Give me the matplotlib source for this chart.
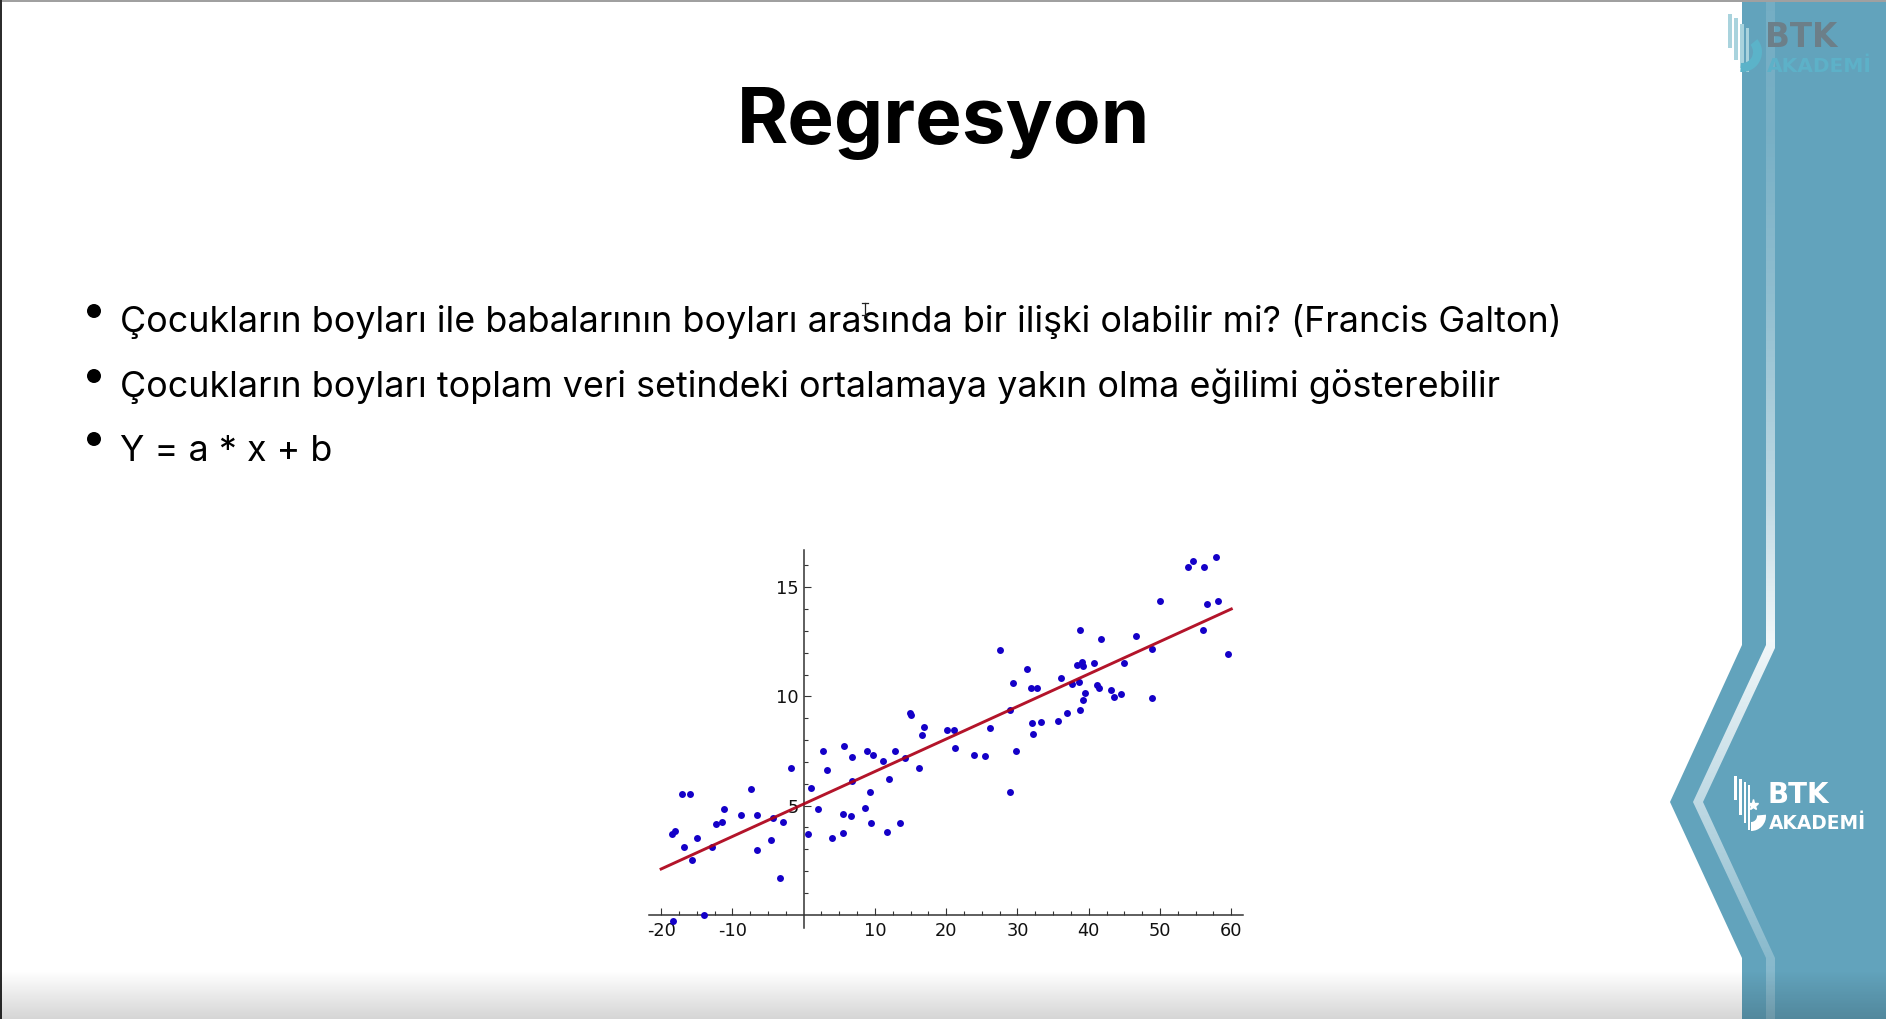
import numpy as np
import matplotlib
matplotlib.use("Agg")
import matplotlib.pyplot as plt
from matplotlib.patches import Polygon, Circle, Wedge, Rectangle
from matplotlib.ticker import FixedLocator

W, H = 1886, 1019

#data
x_pts = [-18.4, -14.0, -18.5, -18.07, -17.09, -15.96, -16.81, -15.68, -14.98, -12.83,
         -12.31, -11.42, -11.19, -8.85, -7.35, -6.51, -6.51, -4.59, -4.31, -3.28,
         -2.86, -1.78, 0.61, 1.03, 1.97, 2.76, 3.23, 3.98, 5.52, 5.52,
         5.62, 6.74, 6.69, 6.79, 8.66, 8.94, 9.27, 9.41, 9.74, 11.14,
         11.66, 12.03, 12.78, 13.48, 14.23, 14.89, 15.03, 16.25, 16.62, 16.90,
         20.13, 21.08, 21.26, 23.93, 25.48, 26.09, 27.58, 28.90, 28.94, 29.32,
         29.83, 31.38, 31.84, 32.08, 32.22, 32.69, 33.25, 35.68, 36.10, 36.90,
         37.65, 38.31, 38.63, 38.73, 38.77, 39.10, 39.19, 39.24, 39.52, 40.74,
         41.21, 41.40, 41.68, 43.13, 43.50, 44.53, 44.91, 46.64, 48.84, 48.93,
         50.01, 53.94, 54.64, 56.10, 56.00, 56.61, 57.92, 58.20, 59.56]
y_pts = [-0.29, -0.02, 3.69, 3.84, 5.55, 5.55, 3.10, 2.52, 3.51, 3.11,
         4.18, 4.24, 4.85, 4.58, 5.76, 4.58, 2.95, 3.44, 4.45, 1.68,
         4.25, 6.73, 3.69, 5.80, 4.84, 7.49, 6.64, 3.52, 4.62, 3.75,
         7.72, 7.23, 4.53, 6.15, 4.90, 7.48, 5.62, 4.21, 7.32, 7.03,
         3.78, 6.21, 7.49, 4.22, 7.20, 9.25, 9.15, 6.74, 8.25, 8.62,
         8.47, 8.45, 7.63, 7.31, 7.26, 8.56, 12.12, 5.62, 9.37, 10.62,
         7.49, 11.26, 10.37, 8.79, 8.30, 10.40, 8.82, 8.86, 10.83, 9.26,
         10.57, 11.43, 10.68, 13.03, 9.40, 11.59, 9.82, 11.40, 10.16, 11.55,
         10.54, 10.39, 12.63, 10.30, 9.98, 10.12, 11.52, 12.75, 12.17, 9.94,
         14.38, 15.94, 16.20, 15.91, 13.03, 14.25, 16.37, 14.38, 11.95]
fit_x = [-20, 60]
fit_y = [2.1, 14.0]
x_ticks = [-20, -10, 10, 20, 30, 40, 50, 60]
x_minor = [-17.5, -15, -12.5, -7.5, -5, -2.5, 2.5, 5, 7.5, 12.5, 15, 17.5, 22.5, 25, 27.5,
           32.5, 35, 37.5, 42.5, 45, 47.5, 52.5, 55, 57.5]
y_ticks = [5, 10, 15]
y_minor = [1, 2, 3, 4, 6, 7, 8, 9, 11, 12, 13, 14, 16]

title = "Regresyon"
bullets = ["Çocukların boyları ile babalarının boyları arasında bir ilişki olabilir mi? (Francis Galton)",
           "Çocukların boyları toplam veri setindeki ortalamaya yakın olma eğilimi gösterebilir",
           "Y = a * x + b"]

panel_color = "#62a3bc"
TEXT_FONT = "Inter"
LOGO_FONT = "DejaVu Sans"

plt.rcParams["axes.unicode_minus"] = False
fig = plt.figure(figsize=(W / 100, H / 100), dpi=100, facecolor="white")

# slide layer, pixel coordinates
bg = fig.add_axes([0, 0, 1, 1])
bg.set_axis_off()

panel = [(1742, 0), (1886, 0), (1886, 1019), (1742, 1019), (1742, 958), (1670, 802), (1742, 645)]
bg.add_patch(Polygon(panel, closed=True, fc=panel_color, ec="none", zorder=1))

# stripe, brightest just above the bend
stripe = Polygon([(1766, 0), (1775, 0), (1775, 648), (1703, 802), (1775, 958), (1775, 1019),
                  (1766, 1019), (1766, 958), (1693, 802), (1766, 645)],
                 closed=True, fc="none", ec="none", zorder=2)
bg.add_patch(stripe)
ys = np.array([0, 130, 300, 500, 640, 800, 957, 1019])
al = np.array([0.12, 0.14, 0.3, 0.6, 0.92, 0.6, 0.25, 0.2])
grad = np.ones((H, 1, 4))
grad[:, 0, 3] = np.interp(np.arange(H), ys, al)
im = bg.imshow(grad, extent=(1680, 1790, H, 0), aspect="auto", zorder=2)
im.set_clip_path(stripe)

# top logo, faded
for x0, x1, y0, y1 in [(1728, 1732, 14, 48), (1734, 1738, 18, 60), (1740, 1744, 24, 68), (1746, 1749, 28, 72)]:
    bg.add_patch(Rectangle((x0, y0), x1 - x0, y1 - y0, fc="#a9d3dd", ec="none", zorder=3))
bg.add_patch(Wedge((1742, 52), 20, -40, 95, width=9, fc="#5bb3c9", ec="none", zorder=3))
bg.text(1765, 47, "BTK", family=LOGO_FONT, weight="bold", fontsize=23.5, color="#6c7f89", va="baseline", zorder=4)
bg.text(1767, 72, "AKADEMİ", family=LOGO_FONT, weight="bold", fontsize=14.5, color="#5db1c8", va="baseline", zorder=4)

# white logo
for x0, x1, y0, y1 in [(1734, 1737, 776, 800), (1739, 1742, 779, 815), (1744, 1746, 782, 823), (1748, 1750, 785, 830)]:
    bg.add_patch(Rectangle((x0, y0), x1 - x0, y1 - y0, fc="white", ec="none", zorder=3))
bg.add_patch(Wedge((1751, 816), 15, -5, 90, width=9, fc="white", ec="none", zorder=3))
bg.plot([1753], [805], marker="*", ms=8, color="white", zorder=3)
bg.text(1767, 803, "BTK", family=LOGO_FONT, weight="bold", fontsize=20, color="white", va="baseline", zorder=4)
bg.text(1769, 829, "AKADEMİ", family=LOGO_FONT, weight="bold", fontsize=13.4, color="white", va="baseline", zorder=4)

# slide text
bg.text(944, 143, title, family=TEXT_FONT, weight="bold", fontsize=56.3, color="black", ha="center", va="baseline", zorder=4)
for b, by, cy in zip(bullets, [332, 397, 461], [311, 376, 439]):
    bg.add_patch(Circle((94, cy), 7, fc="black", ec="none", zorder=4))
    bg.text(120, by, b, family=TEXT_FONT, fontsize=25.8, color="black", va="baseline", zorder=4)

# text cursor
bg.plot([865, 865], [303, 315], color="#222222", lw=0.9, zorder=5)
bg.plot([862, 868], [303, 303], color="#222222", lw=0.9, zorder=5)
bg.plot([862, 868], [315, 315], color="#222222", lw=0.9, zorder=5)

# frame edges and bottom fade
bg.add_patch(Rectangle((0, 0), W, 1.5, fc="#a0a0a0", ec="none", zorder=6))
bg.add_patch(Rectangle((0, 0), 1.5, H, fc="#2c2c2c", ec="none", zorder=6))
fade = np.zeros((H, 1, 4))
fade[:, 0, 3] = np.interp(np.arange(H), [970, 1019], [0, 0.17])
bg.imshow(fade, extent=(0, W, H, 0), aspect="auto", zorder=7)
bg.set_xlim(0, W)
bg.set_ylim(H, 0)

# chart
ax = fig.add_axes([649 / W, 1 - 928 / H, (1242.7 - 649) / W, (928 - 550) / H])
ax.patch.set_alpha(0)
ax.scatter(x_pts, y_pts, s=25, color="#1400c8", linewidths=0, zorder=3, clip_on=False)
ax.plot(fit_x, fit_y, color="#ad0018", lw=2.1, alpha=0.92, zorder=4)
ax.set_xlim(-21.7, 61.6)
ax.set_ylim(-0.6, 16.7)
for s in ["top", "right"]:
    ax.spines[s].set_visible(False)
for s in ["left", "bottom"]:
    ax.spines[s].set_position("zero")
    ax.spines[s].set_linewidth(1.1)
    ax.spines[s].set_color("#333333")
ax.set_xticks(x_ticks)
ax.set_yticks(y_ticks)
ax.xaxis.set_minor_locator(FixedLocator(x_minor))
ax.yaxis.set_minor_locator(FixedLocator(y_minor))
ax.tick_params(axis="x", which="major", direction="in", length=5, width=0.8, color="#333333", labelsize=12.8, pad=5, labelcolor="#111111")
ax.tick_params(axis="y", which="major", direction="in", length=5, width=0.8, color="#333333", labelsize=12.8, pad=3.5, labelcolor="#111111")
ax.tick_params(which="minor", direction="in", length=2.6, width=0.8, color="#333333")

fig.savefig("out.png", dpi=100)
